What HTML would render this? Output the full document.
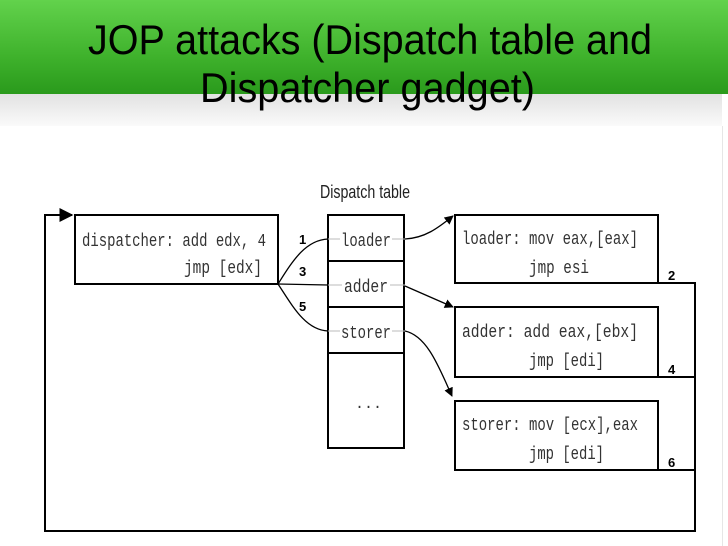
<!DOCTYPE html>
<html><head><meta charset="utf-8"><style>
html,body{margin:0;padding:0;background:#fff;}
svg{display:block;}
</style></head><body>
<svg width="728" height="546" viewBox="0 0 728 546" xmlns="http://www.w3.org/2000/svg">
<defs>
<linearGradient id="g" x1="0" y1="0" x2="0" y2="1">
<stop offset="0" stop-color="#62d24c"/>
<stop offset="0.6" stop-color="#3fb22c"/>
<stop offset="1" stop-color="#2a9a1c"/>
</linearGradient>
<linearGradient id="w" x1="0" y1="0" x2="0" y2="1">
<stop offset="0" stop-color="#e2e2e2"/>
<stop offset="1" stop-color="#fafafa"/>
</linearGradient>
<marker id="a" viewBox="0 0 10 10" refX="9" refY="5" markerWidth="7" markerHeight="7" orient="auto">
<path d="M0,0 L10,5 L0,10 z" fill="#000"/>
</marker>
</defs>
<rect x="0" y="0" width="728" height="94" fill="url(#g)"/>
<rect x="0" y="94" width="722" height="32" fill="url(#w)"/>
<line x1="722.5" y1="126" x2="722.5" y2="546" stroke="#e6e6e6" stroke-width="1"/>
<g font-family="Liberation Sans, sans-serif" font-size="42" fill="#000">
<text x="88" y="54" textLength="564" lengthAdjust="spacingAndGlyphs">JOP attacks (Dispatch table and</text>
<text x="200" y="102" textLength="335" lengthAdjust="spacingAndGlyphs">Dispatcher gadget)</text>
</g>

<g stroke="#000" stroke-width="2" fill="none">
<polyline points="658,283 695,283 695,531 45,531 45,215 72,215" marker-end="url(#a)"/>
<line x1="658" y1="377" x2="695" y2="377"/>
<line x1="658" y1="470" x2="695" y2="470"/>
<rect x="75" y="215" width="203" height="69"/>
<rect x="328" y="215" width="76" height="233"/>
<line x1="328" y1="261" x2="404" y2="261"/>
<line x1="328" y1="307" x2="404" y2="307"/>
<line x1="328" y1="353" x2="404" y2="353"/>
<rect x="455" y="215" width="203" height="68"/>
<rect x="455" y="307" width="203" height="70"/>
<rect x="455" y="401" width="203" height="69"/>
</g>
<g stroke="#000" stroke-width="1.3" fill="none">
<path d="M278,284 C292,262 305,240 328,239"/>
<path d="M278,284 L328,285"/>
<path d="M278,284 C292,305 305,330 328,331"/>
<path d="M405,239 C425,238 438,228 453,216" marker-end="url(#a)"/>
<path d="M405,286 L453,307" marker-end="url(#a)"/>
<path d="M405,331 C428,336 440,370 452,396" marker-end="url(#a)"/>
</g>
<g stroke="#bbb" stroke-width="1" fill="none">
<line x1="328" y1="239" x2="340" y2="239"/><line x1="392" y1="239" x2="405" y2="239"/>
<line x1="328" y1="285" x2="342" y2="285"/><line x1="390" y1="285" x2="405" y2="285"/>
<line x1="328" y1="331" x2="340" y2="331"/><line x1="392" y1="331" x2="405" y2="331"/>
</g>
<g font-family="Liberation Mono, monospace" font-size="18" fill="#333">
<text x="82" y="246" textLength="184" lengthAdjust="spacingAndGlyphs">dispatcher: add edx, 4</text>
<text x="184" y="273" textLength="78" lengthAdjust="spacingAndGlyphs">jmp [edx]</text>
<text x="341" y="246" textLength="50" lengthAdjust="spacingAndGlyphs">loader</text>
<text x="344" y="292" textLength="44" lengthAdjust="spacingAndGlyphs">adder</text>
<text x="341" y="338" textLength="50" lengthAdjust="spacingAndGlyphs">storer</text>
<text x="355" y="408" font-size="15">...</text>
<text x="462" y="244" textLength="176" lengthAdjust="spacingAndGlyphs">loader: mov eax,[eax]</text>
<text x="529" y="273" textLength="60" lengthAdjust="spacingAndGlyphs">jmp esi</text>
<text x="462" y="337" textLength="176" lengthAdjust="spacingAndGlyphs">adder:  add eax,[ebx]</text>
<text x="529" y="366" textLength="75" lengthAdjust="spacingAndGlyphs">jmp [edi]</text>
<text x="462" y="430" textLength="176" lengthAdjust="spacingAndGlyphs">storer: mov [ecx],eax</text>
<text x="529" y="459" textLength="75" lengthAdjust="spacingAndGlyphs">jmp [edi]</text>
</g>
<g font-family="Liberation Sans, sans-serif" font-size="13" font-weight="bold" fill="#000">
<text x="299" y="244">1</text>
<text x="299" y="276">3</text>
<text x="299" y="311">5</text>
<text x="668" y="280">2</text>
<text x="668" y="374">4</text>
<text x="668" y="467">6</text>
</g>
<text x="320" y="198" font-family="Liberation Sans, sans-serif" font-size="18" fill="#222" textLength="90" lengthAdjust="spacingAndGlyphs">Dispatch table</text>
</svg>
</body></html>
